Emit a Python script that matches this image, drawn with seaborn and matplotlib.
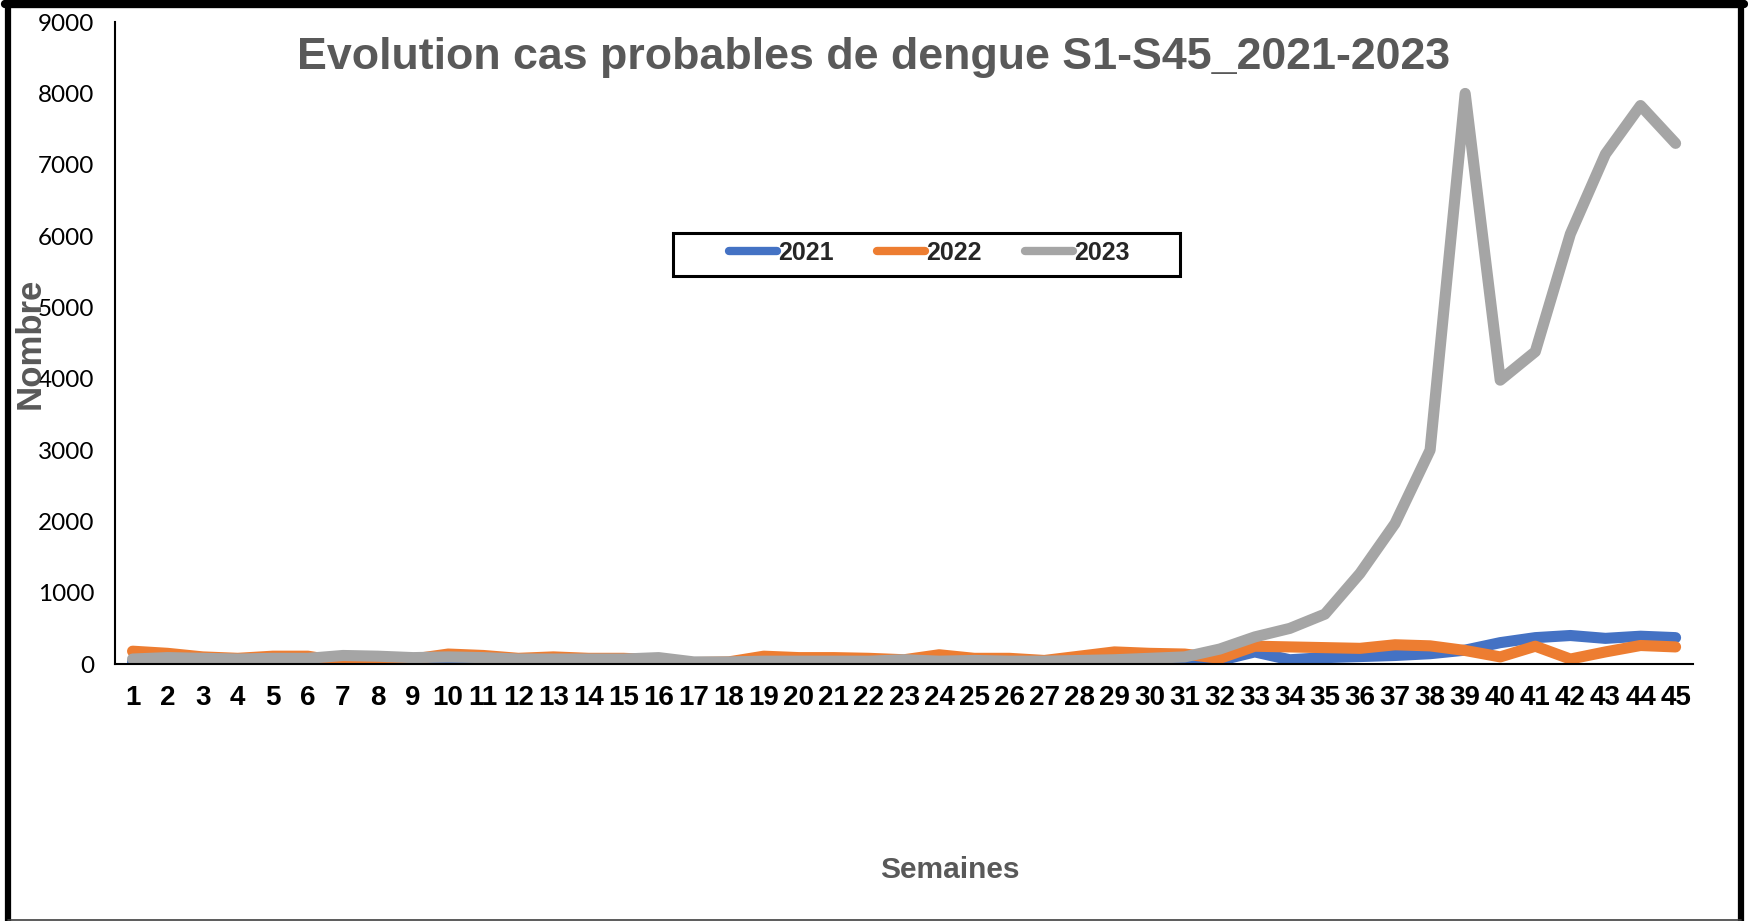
import numpy as np
import pandas as pd
import seaborn as sns
import matplotlib.pyplot as plt
from matplotlib.patches import Rectangle
from matplotlib.lines import Line2D

# weekly probable dengue cases, S1-S45
weeks = list(range(1, 46))
cases_2021 = [30, 30, 25, 25, 30, 30, 10, 5, 30, 40, 40, 30, 30, 30, 30, 30, 10, 10, 20, 20,
              20, 20, 30, 20, 30, 20, 20, 20, 20, 10, 10, 50, 170, 60, 90, 105, 120, 145, 195, 300,
              370, 400, 360, 390, 370]
cases_2022 = [180, 150, 100, 80, 110, 110, 30, 10, 70, 140, 120, 80, 100, 80, 80, 60, 20, 30, 110, 90,
              90, 80, 60, 130, 80, 80, 50, 110, 170, 150, 140, 80, 250, 240, 230, 220, 270, 255, 190, 100,
              250, 70, 170, 260, 240]
cases_2023 = [70, 90, 80, 70, 80, 80, 120, 110, 90, 100, 90, 70, 70, 70, 70, 90, 30, 30, 40, 40,
              40, 40, 60, 40, 50, 40, 40, 50, 60, 80, 100, 210, 380, 500, 700, 1270, 1970, 3000, 8000, 3980,
              4380, 6030, 7150, 7830, 7300]
years = ["2021", "2022", "2023"]
colors = ["#4472C4", "#ED7D31", "#A5A5A5"]

df = pd.DataFrame({
    "Semaine": weeks * 3,
    "Cas": cases_2021 + cases_2022 + cases_2023,
    "Année": [y for y in years for _ in weeks],
})

sns.set_style("white")
plt.rcParams["font.family"] = ["Liberation Sans", "DejaVu Sans"]

fig = plt.figure(figsize=(17.48, 9.21), dpi=100)
ax = fig.add_axes([0.0658, 0.279, 0.9028, 0.697])

sns.lineplot(data=df, x="Semaine", y="Cas", hue="Année", palette=colors,
             linewidth=8, ax=ax, legend=True)
for ln in ax.lines:
    ln.set_solid_capstyle("round")
    ln.set_solid_joinstyle("round")

ax.set_xlim(0.5, 45.5)
ax.set_ylim(0, 9000)
ax.set_xticks(weeks)
ax.set_xticklabels([str(w) for w in weeks], fontsize=20, fontweight="bold")
ax.set_yticks(range(0, 9001, 1000))
ax.set_yticklabels([str(v) for v in range(0, 9001, 1000)], fontsize=17.5, family=["Lato", "DejaVu Sans"])
ax.tick_params(axis="x", length=0, pad=15, colors="black")
ax.tick_params(axis="y", length=0, pad=15, colors="black")

ax.set_xlabel("")
ax.set_ylabel("")
for s in ["top", "right"]:
    ax.spines[s].set_visible(False)
for s in ["left", "bottom"]:
    ax.spines[s].set_color("black")
    ax.spines[s].set_linewidth(1.5)

# legend, frame drawn separately
handles = [Line2D([], [], color=c, linewidth=6, solid_capstyle="round") for c in colors]
leg = ax.legend(handles, years, ncol=3, loc="center", bbox_to_anchor=(0.516, 0.640), frameon=False,
                handlelength=1.9, handletextpad=0.05, columnspacing=1.75,
                prop={"weight": "bold", "size": 18})
ax.add_patch(Rectangle((0.3536, 0.604), 0.3214, 0.0675, transform=ax.transAxes,
                       fill=False, edgecolor="black", linewidth=2.2, zorder=5))

fig.text(0.5, 0.938, "Evolution cas probables de dengue S1-S45_2021-2023", ha="center", va="center",
         fontsize=32.2, fontweight="bold", color="#595959")
fig.text(0.0175, 0.627, "Nombre", rotation=90, ha="center", va="center",
         fontsize=25, fontweight="bold", color="#595959")
fig.text(0.5435, 0.055, "Semaines", ha="center", va="center",
         fontsize=21.5, fontweight="bold", color="#595959")

# outer frame: thick left/top/right, thin bottom
fig.add_artist(Line2D([8 / 1748, 8 / 1748], [0, 1 - 4 / 921], transform=fig.transFigure, color="black", linewidth=4.5))
fig.add_artist(Line2D([5 / 1748, 1744 / 1748], [1 - 4.5 / 921, 1 - 4.5 / 921], transform=fig.transFigure, color="black", linewidth=6))
fig.add_artist(Line2D([1741 / 1748, 1741 / 1748], [0, 1 - 4 / 921], transform=fig.transFigure, color="black", linewidth=4.5))
fig.add_artist(Line2D([8 / 1748, 1741 / 1748], [1.5 / 921, 1.5 / 921], transform=fig.transFigure, color="#404040", linewidth=1.2))

fig.savefig("out.png", dpi=100)
